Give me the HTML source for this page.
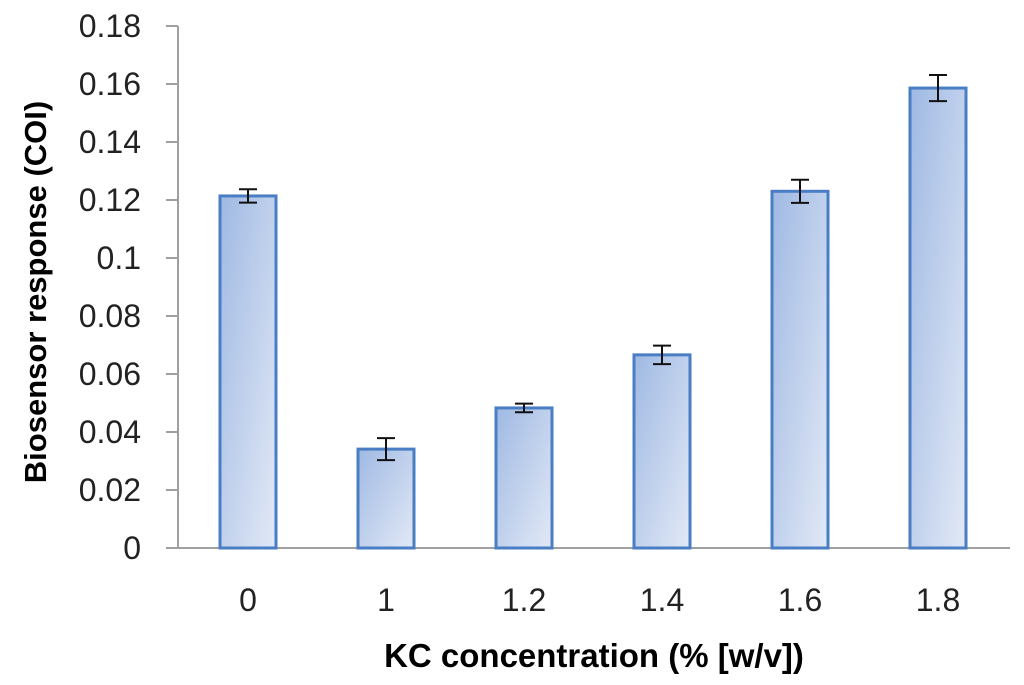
<!DOCTYPE html>
<html><head><meta charset="utf-8"><style>
html,body{margin:0;padding:0;background:#fff;}
svg{display:block;font-family:"Liberation Sans",Calibri,sans-serif;}
</style></head><body>
<svg id="chart" width="1024" height="685" viewBox="0 0 1024 685" xmlns="http://www.w3.org/2000/svg">
<defs>
<linearGradient id="g" x1="0" y1="0" x2="1" y2="1">
<stop offset="0" stop-color="#9fb9e3"/><stop offset="1" stop-color="#e2e9f6"/>
</linearGradient>
</defs>
<g id="axes"></g>
<g id="bars"></g>
<text transform="translate(46,292) rotate(-90)" text-anchor="middle" font-size="31" font-weight="bold" fill="#000">Biosensor response (COI)</text>
<text x="594" y="667" text-anchor="middle" font-size="33" font-weight="bold" fill="#000">KC concentration (% [w/v])</text>
</svg>
<script>
const categories = ["0","1","1.2","1.4","1.6","1.8"];
const values = [0.1214, 0.0341, 0.0483, 0.0666, 0.1230, 0.1586];
const errors = [0.0023, 0.0038, 0.0015, 0.0032, 0.0040, 0.0045];
const yTicks = [0,0.02,0.04,0.06,0.08,0.1,0.12,0.14,0.16,0.18];
const yTickLabels = ["0","0.02","0.04","0.06","0.08","0.1","0.12","0.14","0.16","0.18"];

const NS="http://www.w3.org/2000/svg";
const x0=178, x1=1006, yBase=548, yTop=26, yMax=0.18;
const step=(x1-x0)/categories.length, barW=56;
function y(v){return yBase-(v/yMax)*(yBase-yTop);}
function xc(i){return x0+step*(i+0.5)+1;}
function mk(tag,attrs,parent){const e=document.createElementNS(NS,tag);for(const k in attrs)e.setAttribute(k,attrs[k]);parent.appendChild(e);return e;}
const axes=document.getElementById('axes'), bars=document.getElementById('bars');
let a=mk('line',{x1:x0,y1:yTop,x2:x0,y2:yBase,stroke:'#a0a0a0','stroke-width':2},axes);


a=mk('line',{x1:x0-12,y1:yBase,x2:x1+4,y2:yBase,stroke:'#a0a0a0','stroke-width':2},axes);


yTicks.forEach((t,i)=>{
  const tk=mk('line',{x1:x0-12,y1:y(t),x2:x0,y2:y(t),stroke:'#a0a0a0','stroke-width':2},axes);
  
  
  const tl=mk('text',{x:x0-37,y:y(t)+11,'text-anchor':'end','font-size':32,fill:'#222'},axes);
  tl.textContent=yTickLabels[i];
  
  
});
categories.forEach((c,i)=>{
  const cx=xc(i), top=y(values[i]);
  const r=mk('rect',{x:cx-barW/2,y:top,width:barW,height:yBase-top,fill:'url(#g)',stroke:'#4a7ec4','stroke-width':3},bars);
  
  
  const eh=y(values[i]+errors[i]), el=y(values[i]-errors[i]);
  const e=mk('path',{d:`M${cx},${eh}V${el}M${cx-9},${eh}H${cx+9}M${cx-9},${el}H${cx+9}`,stroke:'#111','stroke-width':2,fill:'none'},bars);
  
  
  const l=mk('text',{x:cx,y:611,'text-anchor':'middle','font-size':32,fill:'#222'},axes);
  l.textContent=c;
  
  
});
</script>
</body></html>
